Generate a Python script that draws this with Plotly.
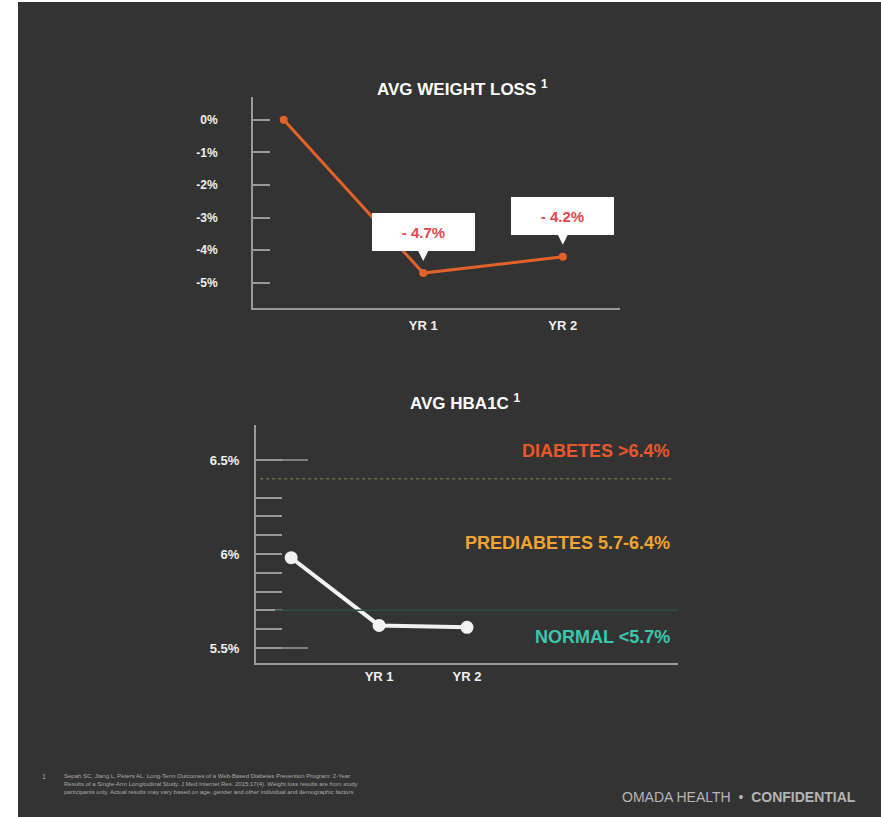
import plotly.graph_objects as go

# ---- data -------------------------------------------------------------
weight_x = [0, 1, 2]
weight_loss = [0.0, -4.7, -4.2]          # % change from baseline
weight_labels = ["", "- 4.7%", "- 4.2%"]
weight_ticks = [0, -1, -2, -3, -4, -5]
weight_ticktext = ["0%", "-1%", "-2%", "-3%", "-4%", "-5%"]

hba1c_x = [0, 1, 2]
hba1c = [5.98, 5.62, 5.61]               # average HbA1c, %
hba1c_ticks = [5.5, 6.0, 6.5]
hba1c_ticktext = ["5.5%", "6%", "6.5%"]
hba1c_minor = [5.6, 5.7, 5.8, 5.9, 6.1, 6.2, 6.3]

x_ticks = [1, 2]
x_ticktext = ["YR 1", "YR 2"]

diabetes_cut = 6.4
normal_cut = 5.7
zone_labels = ["DIABETES >6.4%", "PREDIABETES 5.7-6.4%", "NORMAL <5.7%"]
zone_values = [6.55, 6.06, 5.56]
zone_colors = ["#e8582c", "#f0a431", "#3cc6ae"]

footnote = ("Sepah SC, Jiang L, Peters AL. Long-Term Outcomes of a Web-Based Diabetes Prevention Program: 2-Year<br>"
            "Results of a Single-Arm Longitudinal Study. J Med Internet Res. 2015;17(4). Weight loss results are from study<br>"
            "participants only. Actual results may vary based on age, gender and other individual and demographic factors")

# ---- styling ----------------------------------------------------------
BG = "#333333"
FONT = "Liberation Sans, Arial, sans-serif"
ORANGE = "#e2622a"
AXIS = "#9a9a9a"
W, H = 881, 817

fig = go.Figure()

fig.add_trace(go.Scatter(
    x=weight_x, y=weight_loss, mode="lines+markers",
    line=dict(color=ORANGE, width=3),
    marker=dict(color=ORANGE, size=8),
    xaxis="x", yaxis="y", hoverinfo="skip", showlegend=False))

fig.add_trace(go.Scatter(
    x=hba1c_x, y=hba1c, mode="lines+markers",
    line=dict(color="#f2f2f2", width=4),
    marker=dict(color="#f2f2f2", size=13),
    xaxis="x2", yaxis="y2", hoverinfo="skip", showlegend=False))


def bold(size, color="#f0f0f0"):
    return dict(family=FONT, size=size, color=color, weight="bold")


fig.update_layout(
    width=W, height=H,
    margin=dict(l=0, r=0, t=0, b=0),
    paper_bgcolor=BG, plot_bgcolor="rgba(0,0,0,0)",
    font=dict(family=FONT, color="#ffffff"),
    xaxis=dict(domain=[253 / W, 620 / W], anchor="y", range=[-0.22, 2.41],
               tickmode="array", tickvals=x_ticks, ticktext=x_ticktext,
               ticks="", showgrid=False, zeroline=False,
               showline=True, linecolor=AXIS, linewidth=2,
               tickfont=bold(13), ticklabelstandoff=4),
    yaxis=dict(domain=[1 - 308 / H, 1 - 97 / H], anchor="x", range=[-5.77, 0.7],
               tickmode="array", tickvals=weight_ticks, ticktext=weight_ticktext,
               ticks="inside", ticklen=17, tickcolor=AXIS, tickwidth=1.5,
               showgrid=False, zeroline=False,
               showline=True, linecolor=AXIS, linewidth=2,
               tickfont=bold(12), ticklabelstandoff=31),
    xaxis2=dict(domain=[256 / W, 678 / W], anchor="y2", range=[-0.40, 4.40],
                tickmode="array", tickvals=x_ticks, ticktext=x_ticktext,
                ticks="", showgrid=False, zeroline=False,
                showline=True, linecolor=AXIS, linewidth=2,
                tickfont=bold(13), ticklabelstandoff=0),
    yaxis2=dict(domain=[1 - 663 / H, 1 - 425 / H], anchor="x2", range=[5.42, 6.686],
                tickmode="array", tickvals=hba1c_ticks, ticktext=hba1c_ticktext,
                ticks="inside", ticklen=26, tickcolor=AXIS, tickwidth=1.5,
                minor=dict(tickmode="array", tickvals=hba1c_minor, ticks="inside",
                           ticklen=26, tickcolor=AXIS, tickwidth=1.5, showgrid=False),
                showgrid=False, zeroline=False,
                showline=True, linecolor=AXIS, linewidth=2,
                tickfont=bold(13), ticklabelstandoff=12),
)

shapes = [
    # white margin strip on the left and top edges of the slide
    dict(type="rect", xref="paper", yref="paper", x0=0, x1=18 / W, y0=0, y1=1,
         fillcolor="#ffffff", line=dict(width=0), layer="below"),
    dict(type="rect", xref="paper", yref="paper", x0=0, x1=1, y0=1 - 2 / H, y1=1,
         fillcolor="#ffffff", line=dict(width=0), layer="below"),
    # threshold lines on the HbA1c panel
    dict(type="line", xref="x2 domain", yref="y2", x0=0.01, x1=0.985,
         y0=diabetes_cut, y1=diabetes_cut,
         line=dict(color="#6d6c43", width=1.5, dash="dot")),
    dict(type="line", xref="x2 domain", yref="y2", x0=0.045, x1=1.0,
         y0=normal_cut, y1=normal_cut,
         line=dict(color="#2e5048", width=1.5)),
]
# longer ticks at the ends of the HbA1c scale
for v in (hba1c_ticks[0], hba1c_ticks[-1]):
    shapes.append(dict(type="line", xref="x2 domain", yref="y2", x0=0, x1=52 / 422,
                       y0=v, y1=v, line=dict(color=AXIS, width=1.5)))
fig.update_layout(shapes=shapes)

annotations = []
# value callouts on the weight-loss line
for xv, yv, lab in zip(weight_x, weight_loss, weight_labels):
    if not lab:
        continue
    annotations.append(dict(
        x=xv, y=yv, xref="x", yref="y", text=lab,
        showarrow=True, arrowhead=2, arrowsize=1.2, arrowwidth=3,
        arrowcolor="#ffffff", ax=0, ay=-41, standoff=12,
        bgcolor="#ffffff", bordercolor="#ffffff", width=99, height=34,
        font=bold(15, "#e2474c")))

# zone labels on the HbA1c panel
for lab, yv, col in zip(zone_labels, zone_values, zone_colors):
    annotations.append(dict(
        x=0.985, y=yv, xref="x2 domain", yref="y2", text=lab,
        showarrow=False, xanchor="right", yanchor="middle",
        font=bold(18, col)))

# panel titles
annotations += [
    dict(x=463 / W, y=1 - 88 / H, xref="paper", yref="paper",
         text="AVG WEIGHT LOSS <sup>1</sup>", showarrow=False,
         xanchor="center", yanchor="middle", font=bold(17, "#ffffff")),
    dict(x=465 / W, y=1 - 402 / H, xref="paper", yref="paper",
         text="AVG HBA1C <sup>1</sup>", showarrow=False,
         xanchor="center", yanchor="middle", font=bold(17, "#ffffff")),
    # footnote
    dict(x=40 / W, y=1 - 776 / H, xref="paper", yref="paper", text="1",
         showarrow=False, xanchor="left", yanchor="middle",
         font=dict(family=FONT, size=7, color="#aaaaaa")),
    dict(x=62 / W, y=1 - 784 / H, xref="paper", yref="paper", text=footnote,
         showarrow=False, xanchor="left", yanchor="middle", align="left",
         font=dict(family=FONT, size=6, color="#aaaaaa")),
    dict(x=858 / W, y=1 - 797 / H, xref="paper", yref="paper",
         text="OMADA HEALTH  •  <b>CONFIDENTIAL</b>",
         showarrow=False, xanchor="right", yanchor="middle",
         font=dict(family=FONT, size=14, color="#b5b5b5")),
]
fig.update_layout(annotations=annotations)

fig.write_html("out.html")
